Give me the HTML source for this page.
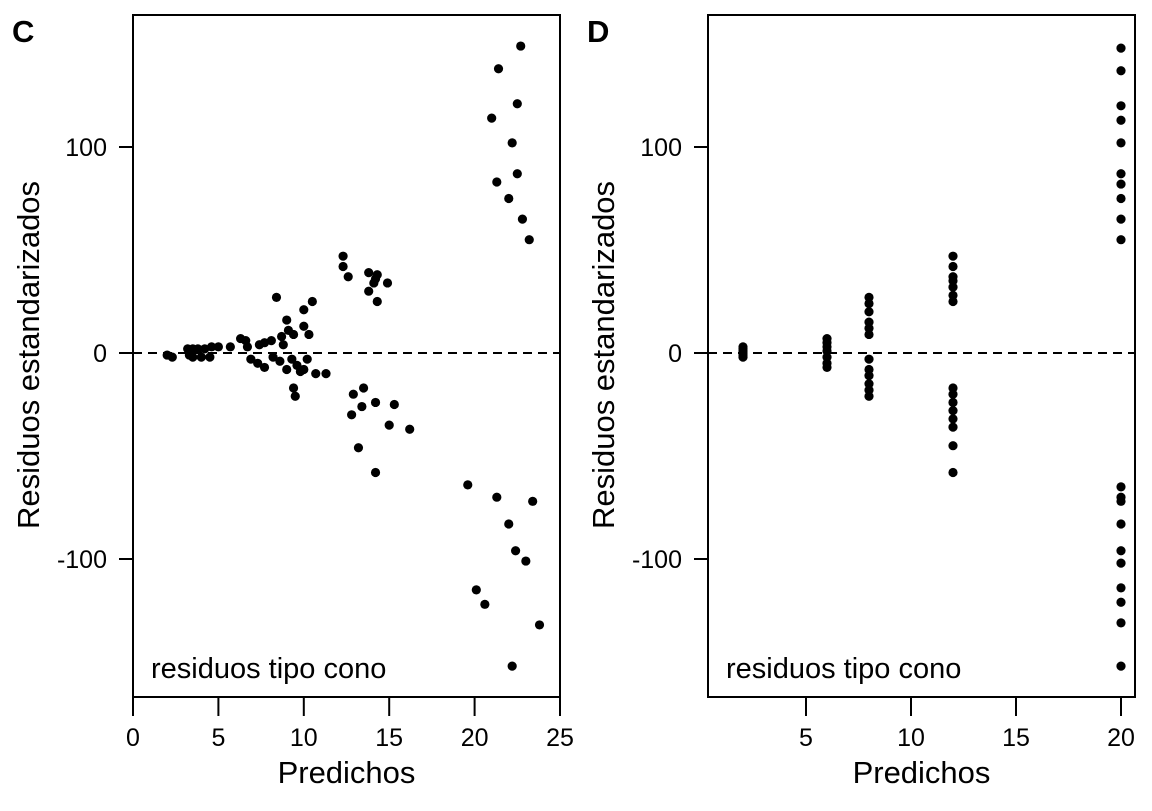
<!DOCTYPE html>
<html><head><meta charset="utf-8"><style>
body{margin:0;background:#fff;}
svg text{font-family:"Liberation Sans",sans-serif;}
</style></head><body>
<svg id="chart" width="1152" height="806" viewBox="0 0 1152 806" xmlns="http://www.w3.org/2000/svg"></svg>
<script>
const cX=[21.0,21.4,22.7,22.5,21.3,22.0,22.2,22.5,22.8,23.2,19.6,20.1,20.6,21.3,22.0,22.4,23.0,23.4,23.8,22.2,12.3,12.3,12.6,13.8,14.3,14.1,14.9,13.8,14.3,14.2,11.3,12.9,13.5,13.4,14.2,12.8,15.3,15.0,16.2,13.2,14.2,8.4,10.5,10.0,9.0,10.0,10.3,9.1,9.4,8.7,8.8,8.1,7.7,7.4,6.7,6.6,6.3,5.7,5.0,4.6,4.2,3.8,3.5,3.2,3.3,3.5,4.0,4.5,2.0,2.3,6.9,7.3,7.7,8.2,8.6,9.0,9.3,9.6,9.8,10.0,10.2,10.7,9.4,9.5];
const cY=[114,138,149,121,83,75,102,87,65,55,-64,-115,-122,-70,-83,-96,-101,-72,-132,-152,47,42,37,39,38,34,34,30,25,36,-10,-20,-17,-26,-24,-30,-25,-35,-37,-46,-58,27,25,21,16,13,9,11,9,8,4,6,5,4,3,6,7,3,3,3,2,2,2,2,-1,-2,-2,-2,-1,-2,-3,-5,-7,-2,-4,-8,-3,-6,-9,-8,-3,-10,-17,-21];
const dX=[2,2,2,2,2,2,6,6,6,6,6,6,6,8,8,8,8,8,8,8,8,8,8,8,8,12,12,12,12,12,12,12,12,12,12,12,12,12,12,12,20,20,20,20,20,20,20,20,20,20,20,20,20,20,20,20,20,20,20,20];
const dY=[3,2,1,0,-1,-2,7,5,3,1,-2,-5,-7,27,24,20,15,12,9,-3,-8,-11,-15,-18,-21,47,42,37,35,32,28,25,-17,-20,-24,-28,-32,-36,-45,-58,148,137,120,113,102,87,82,75,65,55,-65,-70,-72,-83,-96,-102,-114,-121,-131,-152];
const cTicks=[0,5,10,15,20,25];
const dTicks=[5,10,15,20];
const yTicks=[-100,0,100];
const svg=document.getElementById('chart');
const NS='http://www.w3.org/2000/svg';
function mk(t,a,txt){const e=document.createElementNS(NS,t);for(const k in a)e.setAttribute(k,a[k]);if(txt!==undefined)e.textContent=txt;svg.appendChild(e);return e;}
const yS=v=>353-v*2.06;
function panel(id,left,right,x0,ppu,xs,ys,ticks,letter){
  const xS=v=>x0+v*ppu;
  let e=mk('rect',{x:left,y:15,width:right-left,height:682,fill:'none',stroke:'#000','stroke-width':2});
  
  e=mk('line',{x1:left,x2:right,y1:yS(0),y2:yS(0),stroke:'#000','stroke-width':2,'stroke-dasharray':'9,6'});
  
  const tk=ticks;
  e=mk('line',{x1:xS(tk[0]),x2:xS(tk[tk.length-1]),y1:697,y2:697,stroke:'#000','stroke-width':2});
  
  tk.forEach(t=>{
    e=mk('line',{x1:xS(t),x2:xS(t),y1:697,y2:716,stroke:'#000','stroke-width':2});
    
    e=mk('text',{x:xS(t),y:746,'font-size':25,'text-anchor':'middle'},String(t));
    
  });
  e=mk('line',{x1:left,x2:left,y1:yS(100),y2:yS(-100),stroke:'#000','stroke-width':2});
  
  yTicks.forEach(t=>{
    e=mk('line',{x1:left-14,x2:left,y1:yS(t),y2:yS(t),stroke:'#000','stroke-width':2});
    
    e=mk('text',{x:left-26,y:yS(t)+9,'font-size':25,'text-anchor':'end'},String(t));
    
  });
  xs.forEach((v,i)=>{
    e=mk('circle',{cx:xS(v),cy:yS(ys[i]),r:4.6,fill:'#000'});
    
  });
  e=mk('text',{x:(left+right)/2,y:783,'font-size':31,'text-anchor':'middle'},'Predichos');
  
  e=mk('text',{x:0,y:0,'font-size':31,'text-anchor':'middle',transform:`translate(${left-94},355) rotate(-90)`},'Residuos estandarizados');
  
  e=mk('text',{x:left+18,y:678,'font-size':29},'residuos tipo cono');
  
  e=mk('text',{x:left-121,y:42,'font-size':31,'font-weight':'bold'},letter);
  
}
panel('panel-c',133,560,133,17.08,cX,cY,cTicks,'C');
panel('panel-d',708,1135,701,21,dX,dY,dTicks,'D');
</script>
</body></html>
